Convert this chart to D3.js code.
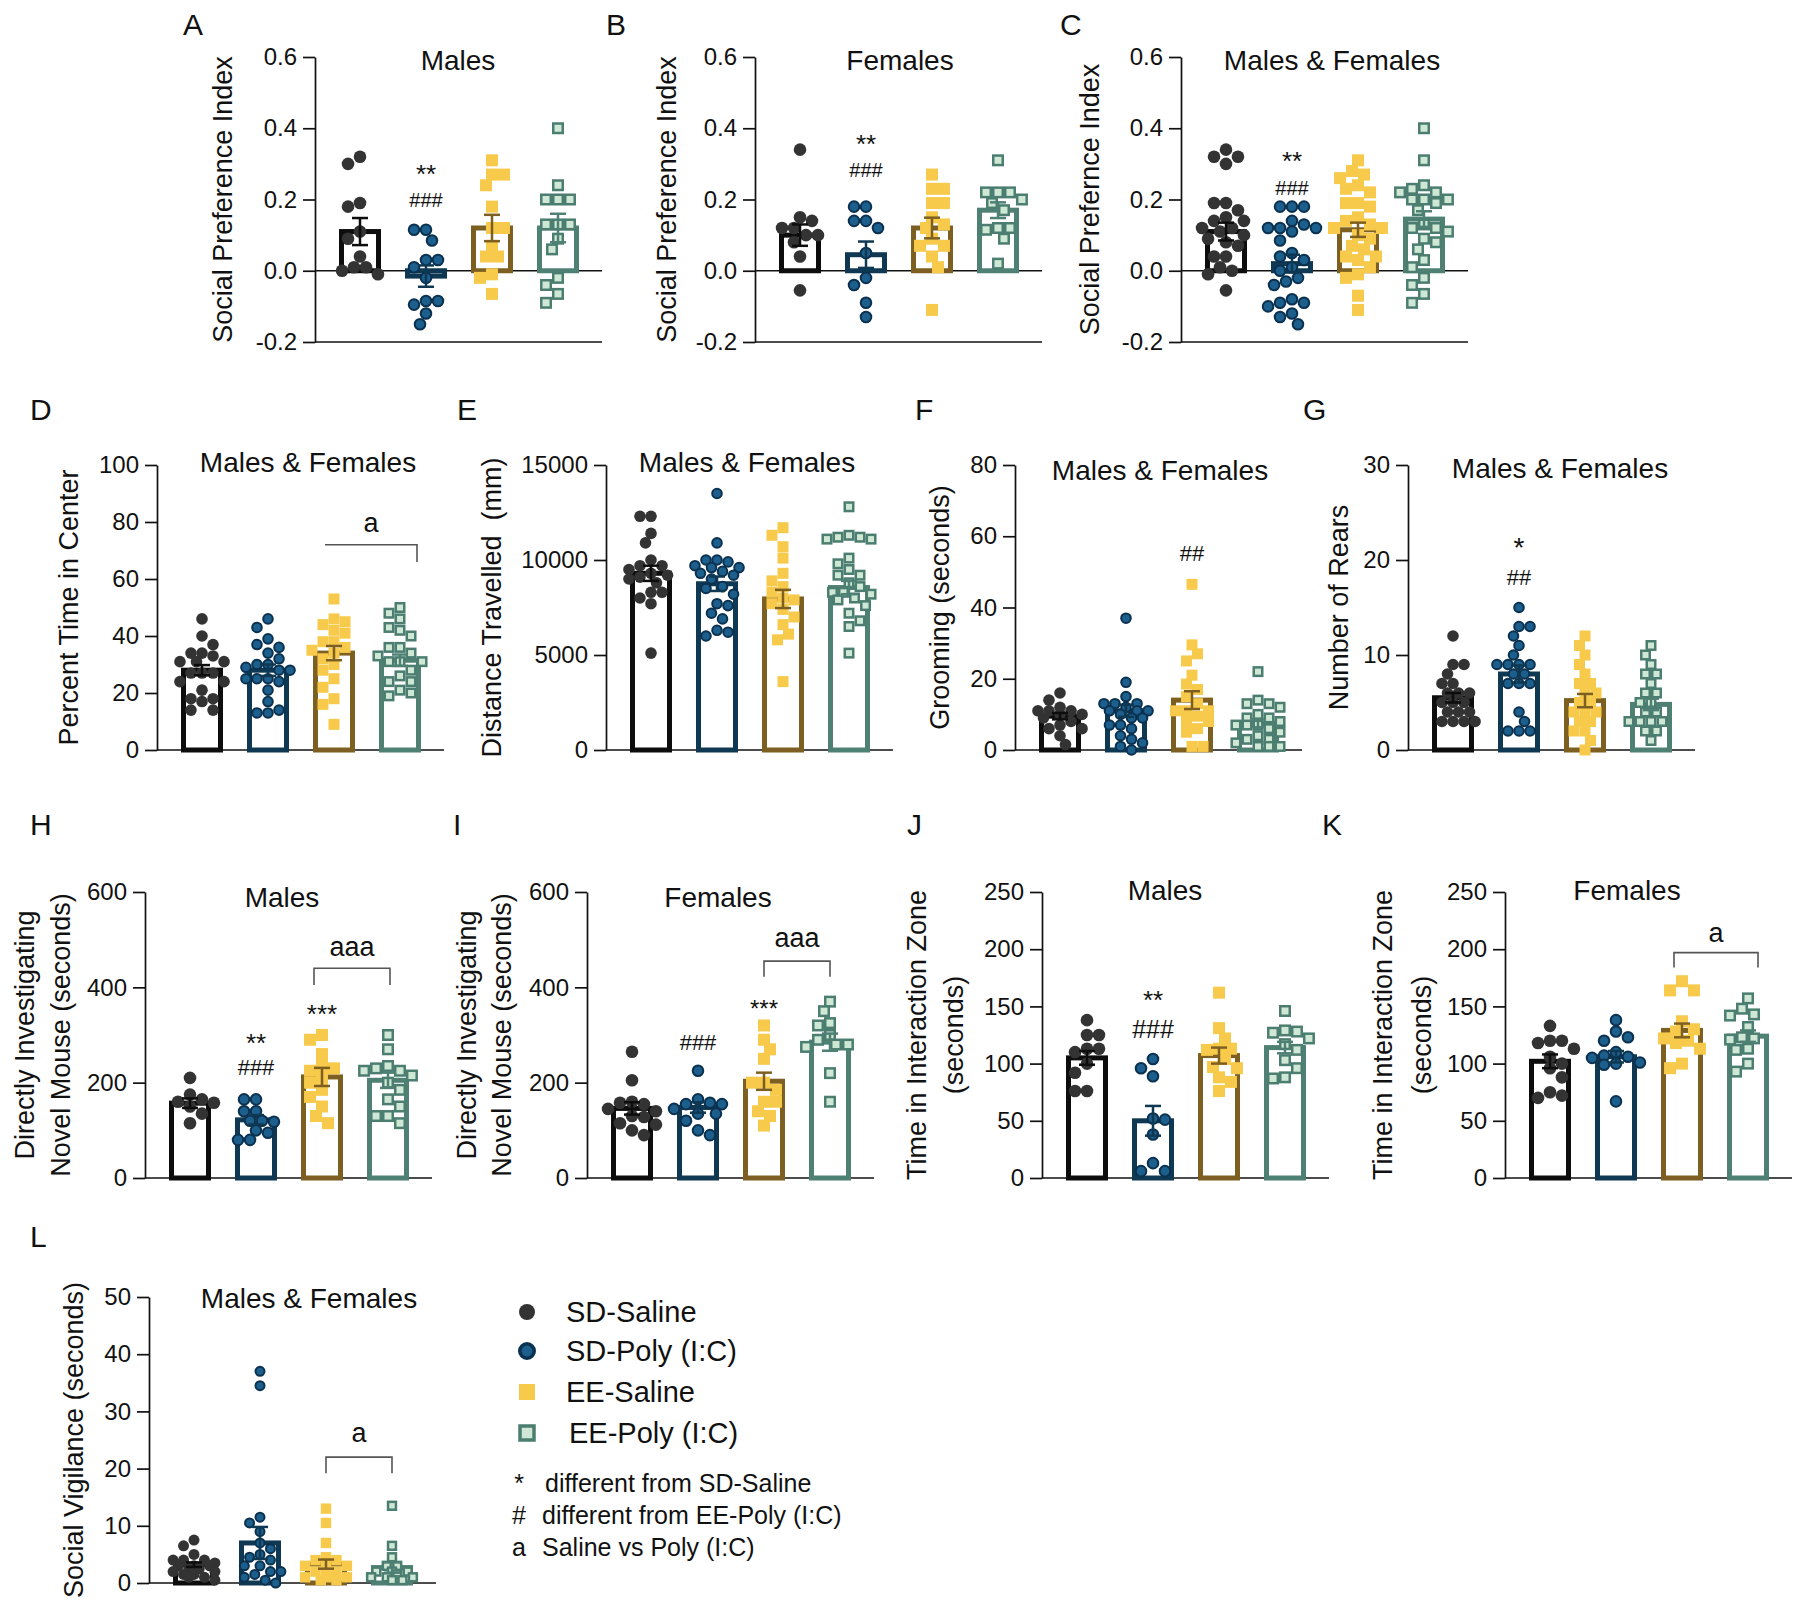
<!DOCTYPE html>
<html>
<head>
<meta charset="utf-8">
<script src="https://cdn.jsdelivr.net/npm/d3@7/dist/d3.min.js"></script>
<style>
html,body{margin:0;padding:0;background:#fff;}
svg text{font-family:"Liberation Sans",Arial,Helvetica,sans-serif;fill:#111;}
</style>
</head>
<body>
<svg id="fig" width="1800" height="1617" xmlns="http://www.w3.org/2000/svg"></svg>
<script>
// ---------- categories ----------
const groups = ["SD-Saline", "SD-Poly (I:C)", "EE-Saline", "EE-Poly (I:C)"];

// ---------- tick labels ----------
const ticksSPI = [-0.2, 0, 0.2, 0.4, 0.6];
const ticksCenter = [0, 20, 40, 60, 80, 100];
const ticksDistance = [0, 5000, 10000, 15000];
const ticksGrooming = [0, 20, 40, 60, 80];
const ticksRears = [0, 10, 20, 30];
const ticksInvestig = [0, 200, 400, 600];
const ticksZone = [0, 50, 100, 150, 200, 250];
const ticksVigil = [0, 10, 20, 30, 40, 50];

// ---------- A: Social preference index, males ----------
const aPoints = [
  [0.32, 0.30, 0.19, 0.18, 0.11, 0.09, 0.04, 0.01, 0.01, 0.0, -0.01],
  [0.115, 0.115, 0.085, 0.03, 0.03, 0.01, -0.02, -0.085, -0.085, -0.095, -0.12, -0.15],
  [0.31, 0.27, 0.27, 0.24, 0.18, 0.12, 0.12, 0.07, 0.04, 0.04, -0.01, -0.02, -0.065],
  [0.40, 0.24, 0.20, 0.20, 0.20, 0.13, 0.13, 0.13, 0.09, 0.06, -0.02, -0.04, -0.065, -0.09]
];
const aMeans = [0.11, -0.015, 0.12, 0.12];
const aSems = [0.038, 0.03, 0.037, 0.04];
const aMarks = [{g: 1, v: 0.29, t: "**"}, {g: 1, v: 0.2, t: "###"}];

// ---------- B: Social preference index, females ----------
const bPoints = [
  [0.34, 0.15, 0.14, 0.12, 0.12, 0.10, 0.10, 0.08, 0.04, -0.055],
  [0.18, 0.18, 0.14, 0.14, 0.12, 0.05, -0.02, -0.04, -0.09, -0.13],
  [0.27, 0.23, 0.23, 0.19, 0.19, 0.15, 0.13, 0.12, 0.09, 0.07, 0.07, 0.04, 0.01, -0.11],
  [0.31, 0.22, 0.22, 0.22, 0.2, 0.19, 0.17, 0.12, 0.12, 0.115, 0.09, 0.02]
];
const bMeans = [0.10, 0.045, 0.12, 0.17];
const bSems = [0.03, 0.037, 0.029, 0.022];
const bMarks = [{g: 1, v: 0.372, t: "**"}, {g: 1, v: 0.282, t: "###"}];

// ---------- C: Social preference index, both sexes ----------
const cPoints = [
  [0.34, 0.32, 0.32, 0.30, 0.19, 0.19, 0.17, 0.15, 0.14, 0.14, 0.12, 0.12, 0.11, 0.10, 0.09, 0.08, 0.07, 0.04, 0.04, 0.01, 0.0, -0.01, -0.055],
  [0.18, 0.18, 0.18, 0.14, 0.13, 0.12, 0.12, 0.12, 0.11, 0.085, 0.05, 0.04, 0.03, 0.01, 0.0, -0.02, -0.03, -0.04, -0.08, -0.09, -0.09, -0.10, -0.12, -0.13, -0.15],
  [0.31, 0.28, 0.27, 0.26, 0.24, 0.23, 0.22, 0.19, 0.19, 0.18, 0.15, 0.14, 0.13, 0.12, 0.12, 0.10, 0.09, 0.07, 0.06, 0.04, 0.04, 0.03, 0.01, -0.01, -0.02, -0.07, -0.11],
  [0.40, 0.31, 0.24, 0.23, 0.22, 0.22, 0.20, 0.20, 0.20, 0.19, 0.17, 0.13, 0.12, 0.12, 0.11, 0.09, 0.08, 0.06, 0.03, 0.01, -0.02, -0.04, -0.065, -0.09]
];
const cMeans = [0.11, 0.02, 0.115, 0.145];
const cSems = [0.025, 0.025, 0.02, 0.022];
const cMarks = [{g: 1, v: 0.325, t: "**"}, {g: 1, v: 0.233, t: "###"}];

// ---------- D: Percent time in center ----------
const dPoints = [
  [46, 40, 37, 34, 34, 33, 31, 31, 31, 27, 27, 27, 24, 24, 21, 18, 18, 17, 14, 14],
  [46, 43, 39, 37, 36, 34, 32, 30, 30, 29, 28, 28, 25, 25, 25, 24, 21, 17, 14, 13, 13],
  [53, 46, 45, 44, 42, 41, 38, 38, 36, 35, 34, 32, 30, 28, 25, 22, 18, 16, 9],
  [50, 48, 46, 43, 42, 40, 36, 36, 34, 33, 31, 31, 31, 28, 26, 24, 24, 21, 20, 19]
];
const dMeans = [28, 28, 34, 31.5];
const dSems = [1.8, 2, 2.5, 2];
const dBracket = {g1: 2, g2: 3, v: 72, drop: 66, left: false, label: "a", lv: 79};

// ---------- E: Distance travelled ----------
const ePoints = [
  [12300, 12300, 11400, 10900, 10000, 9700, 9700, 9500, 9300, 9200, 9100, 9000, 8800, 8300, 8300, 8000, 7700, 5100],
  [13500, 10900, 10000, 10000, 9900, 9700, 9600, 9600, 9400, 9300, 9200, 9000, 8600, 8500, 8200, 7700, 7600, 7200, 6900, 6300, 6200, 6000],
  [11700, 11300, 10700, 10100, 9300, 8900, 8600, 8300, 8000, 7900, 7700, 7400, 7000, 6600, 6100, 5800, 3600],
  [12800, 11300, 11200, 11200, 11100, 11100, 10100, 9800, 9500, 9200, 9200, 8800, 8600, 8300, 8300, 8200, 8000, 7900, 7600, 7200, 6800, 6500, 5100]
];
const eMeans = [9300, 8750, 7950, 8550];
const eSems = [400, 380, 480, 350];

// ---------- F: Grooming ----------
const fPoints = [
  [16, 14, 12, 11, 11, 11, 10, 10, 9, 8, 7, 6, 6, 4, 1.5],
  [37, 19, 15, 13, 13, 13, 12, 11, 11, 11, 10, 9, 9, 7, 7, 6, 4, 3, 2, 1, 0],
  [46.5, 29.5, 27, 25, 21, 18.5, 17, 15, 13, 11, 11, 11, 9.5, 8, 8, 6, 5, 1, 1],
  [22, 14, 13, 13, 12, 10, 9, 9, 8, 7, 7, 7, 6, 5, 4, 3, 3, 2, 1, 1, 1]
];
const fMeans = [9.5, 11, 14, 7.5];
const fSems = [0.9, 1.7, 2.5, 1.1];
const fMarks = [{g: 2, v: 55.4, t: "##"}];

// ---------- G: Number of rears ----------
const gPoints = [
  [12, 9, 9, 8, 7, 7, 6, 6, 6, 5, 5, 5, 4, 4, 4, 3, 3, 3, 3],
  [15, 13, 13, 12, 11, 10, 9, 9, 9, 9, 8, 8, 7, 7, 7, 4, 3, 2, 2, 2],
  [12, 11, 10, 9, 8, 7, 7, 6, 6, 5, 5, 4, 4, 4, 3, 3, 2, 2, 1, 0],
  [11, 10, 9, 8, 8, 7, 6, 6, 5, 5, 4, 4, 3, 3, 3, 3, 2, 2, 1]
];
const gMeans = [5.5, 8, 5.2, 4.8];
const gSems = [0.5, 0.9, 0.7, 0.6];
const gMarks = [{g: 1, v: 22.0, t: "*"}, {g: 1, v: 18.2, t: "##"}];

// ---------- H: Investigating novel mouse, males ----------
const hPoints = [
  [210, 175, 165, 160, 158, 150, 135, 115],
  [165, 165, 140, 140, 120, 120, 118, 100, 95, 80, 80],
  [300, 290, 260, 235, 230, 225, 210, 200, 185, 170, 150, 130, 115],
  [300, 270, 235, 230, 225, 225, 215, 200, 185, 165, 150, 130, 130, 115]
];
const hMeans = [157, 122, 212, 205];
const hSems = [10, 10, 19, 16];
const hMarks = [{g: 1, v: 296, t: "**"}, {g: 1, v: 233, t: "###"}, {g: 2, v: 357, t: "***"}];
const hBracket = {g1: 2, g2: 3, v: 440, drop: 405, left: true, label: "aaa", lv: 482};

// ---------- I: Investigating novel mouse, females ----------
const iPoints = [
  [265, 205, 160, 158, 155, 145, 140, 130, 128, 115, 112, 100, 90],
  [225, 165, 158, 155, 155, 145, 135, 135, 120, 100, 90],
  [320, 290, 270, 250, 200, 200, 185, 160, 160, 140, 130, 110],
  [370, 350, 325, 320, 300, 290, 280, 280, 275, 220, 160]
];
const iMeans = [146, 148, 203, 285];
const iSems = [13, 11, 18, 18];
const iMarks = [{g: 1, v: 285, t: "###"}, {g: 2, v: 367, t: "***"}];
const iBracket = {g1: 2, g2: 3, v: 455, drop: 422, left: true, label: "aaa", lv: 499};

// ---------- J: Time in interaction zone, males ----------
const jPoints = [
  [138, 125, 125, 113, 113, 110, 100, 92, 76, 76],
  [104, 96, 89, 52, 51, 38, 13, 6, 6],
  [162, 131, 122, 113, 113, 112, 104, 97, 96, 88, 84, 76],
  [146, 129, 128, 127, 122, 117, 112, 103, 96, 88, 87]
];
const jMeans = [105, 50, 107, 114];
const jSems = [6, 13, 7, 5];
const jMarks = [{g: 1, v: 161, t: "**"}, {g: 1, v: 130, t: "###"}];

// ---------- K: Time in interaction zone, females ----------
const kPoints = [
  [133, 120, 120, 118, 113, 106, 100, 96, 88, 75, 72, 70],
  [138, 128, 123, 120, 110, 107, 106, 105, 101, 100, 99, 67],
  [172, 164, 164, 137, 130, 128, 122, 120, 118, 113, 100, 96],
  [157, 148, 143, 142, 132, 123, 122, 121, 113, 112, 100, 93]
];
const kMeans = [102, 106, 129, 124];
const kSems = [6, 5, 6, 5];
const kBracket = {g1: 2, g2: 3, v: 197, drop: 184, left: true, label: "a", lv: 213};

// ---------- L: Social vigilance ----------
const lPoints = [
  [7.5, 6.5, 5, 4, 4, 4, 3.5, 3, 3, 3, 2.5, 2.5, 2, 2, 1.5, 1.5, 1, 1, 0.5],
  [37, 34.5, 11.5, 10.5, 9, 7, 6, 5, 4.5, 4, 3, 3, 2, 2, 1.5, 1, 0.5, 0],
  [13, 10.5, 7, 4.5, 4, 4, 3, 3, 3, 2, 2, 2, 1, 1, 1, 0.5, 0.5],
  [13.5, 6.5, 4.5, 3, 3, 2, 2, 2, 1.5, 1, 1, 1, 0.5, 0.5]
];
const lMeans = [3.2, 7, 3.3, 2.7];
const lSems = [0.4, 2.8, 0.8, 0.9];
const lBracket = {g1: 2, g2: 3, v: 22, drop: 19.2, left: true, label: "a", lv: 25.9};

// ---------- legend texts ----------
const notes = [["*", "different from SD-Saline"], ["#", "different from EE-Poly (I:C)"], ["a", "Saline vs Poly (I:C)"]];

// ---------- styles ----------
const gStyle = [
  {shape: "circle", fill: "#333333", stroke: "none", sw: 0, bar: "#0d0d0d"},
  {shape: "circle", fill: "#1d5f8c", stroke: "#0b3150", sw: 2, bar: "#0f3852"},
  {shape: "square", fill: "#f7ca4b", stroke: "none", sw: 0, bar: "#7d5f22"},
  {shape: "square", fill: "#cfe7d5", stroke: "#4b7e70", sw: 2.5, bar: "#4e8174"}
];

const fmt1 = v => v.toFixed(1);
const fmt0 = v => String(v);

// ---------- layout ----------
const panels = [
  {L: "A", lx: 183, ly: 35, x0: 315, yTop: 57, yBot: 342, dom: [-0.2, 0.6], ticks: ticksSPI, fmt: fmt1, zero: true,
   title: "Males", tx: 458, ty: 70, ylab: ["Social Preference Index"], ylx: [223],
   pts: aPoints, means: aMeans, sems: aSems, marks: aMarks, r: 6.3, hashFs: 20, starFs: 26},
  {L: "B", lx: 606, ly: 35, x0: 755, yTop: 57, yBot: 342, dom: [-0.2, 0.6], ticks: ticksSPI, fmt: fmt1, zero: true,
   title: "Females", tx: 900, ty: 70, ylab: ["Social Preference Index"], ylx: [667],
   pts: bPoints, means: bMeans, sems: bSems, marks: bMarks, r: 6.3, hashFs: 20, starFs: 26},
  {L: "C", lx: 1060, ly: 35, x0: 1181, yTop: 57, yBot: 342, dom: [-0.2, 0.6], ticks: ticksSPI, fmt: fmt1, zero: true,
   title: "Males & Females", tx: 1332, ty: 70, ylab: ["Social Prefernce Index"], ylx: [1090],
   pts: cPoints, means: cMeans, sems: cSems, marks: cMarks, r: 6.3, hashFs: 20, starFs: 26},
  {L: "D", lx: 30, ly: 420, x0: 157, yTop: 465, yBot: 750, dom: [0, 100], ticks: ticksCenter, fmt: fmt0,
   title: "Males & Females", tx: 308, ty: 472, ylab: ["Percent Time in Center"], ylx: [69],
   pts: dPoints, means: dMeans, sems: dSems, marks: [], bracket: dBracket, bx: [-9, 17], r: 5.8},
  {L: "E", lx: 457, ly: 420, x0: 606, yTop: 465, yBot: 750, dom: [0, 15000], ticks: ticksDistance, fmt: fmt0,
   title: "Males & Females", tx: 747, ty: 472, ylab: ["Distance Travelled  (mm)"], ylx: [492],
   pts: ePoints, means: eMeans, sems: eSems, marks: [], r: 5.8},
  {L: "F", lx: 915, ly: 420, x0: 1015, yTop: 465, yBot: 750, dom: [0, 80], ticks: ticksGrooming, fmt: fmt0,
   title: "Males & Females", tx: 1160, ty: 480, ylab: ["Grooming (seconds)"], ylx: [940],
   pts: fPoints, means: fMeans, sems: fSems, marks: fMarks, r: 5.8, hashFs: 22, starFs: 26},
  {L: "G", lx: 1303, ly: 420, x0: 1408, yTop: 465, yBot: 750, dom: [0, 30], ticks: ticksRears, fmt: fmt0,
   title: "Males & Females", tx: 1560, ty: 478, ylab: ["Number of Rears"], ylx: [1339],
   pts: gPoints, means: gMeans, sems: gSems, marks: gMarks, r: 5.8, hashFs: 22, starFs: 28},
  {L: "H", lx: 30, ly: 835, x0: 145, yTop: 892, yBot: 1178, dom: [0, 600], ticks: ticksInvestig, fmt: fmt0,
   title: "Males", tx: 282, ty: 907, ylab: ["Directly Investigating", "Novel Mouse (seconds)"], ylx: [25, 61],
   pts: hPoints, means: hMeans, sems: hSems, marks: hMarks, bracket: hBracket, bx: [-8, 2], r: 6.3, hashFs: 22, starFs: 26},
  {L: "I", lx: 453, ly: 835, x0: 587, yTop: 892, yBot: 1178, dom: [0, 600], ticks: ticksInvestig, fmt: fmt0,
   title: "Females", tx: 718, ty: 907, ylab: ["Directly Investigating", "Novel Mouse (seconds)"], ylx: [467, 502],
   pts: iPoints, means: iMeans, sems: iSems, marks: iMarks, bracket: iBracket, bx: [0, 0], r: 6.3, hashFs: 22, starFs: 24},
  {L: "J", lx: 907, ly: 835, x0: 1042, yTop: 892, yBot: 1178, dom: [0, 250], ticks: ticksZone, fmt: fmt0,
   title: "Males", tx: 1165, ty: 900, ylab: ["Time in Interaction Zone", "(seconds)"], ylx: [917, 954],
   pts: jPoints, means: jMeans, sems: jSems, marks: jMarks, r: 6.3, hashFs: 25, starFs: 26},
  {L: "K", lx: 1322, ly: 835, x0: 1505, yTop: 892, yBot: 1178, dom: [0, 250], ticks: ticksZone, fmt: fmt0,
   title: "Females", tx: 1627, ty: 900, ylab: ["Time in Interaction Zone", "(seconds)"], ylx: [1383, 1422],
   pts: kPoints, means: kMeans, sems: kSems, marks: [], bracket: kBracket, bx: [-8, 10], r: 6.3},
  {L: "L", lx: 30, ly: 1247, x0: 149, yTop: 1297, yBot: 1583, dom: [0, 50], ticks: ticksVigil, fmt: fmt0,
   title: "Males & Females", tx: 309, ty: 1308, ylab: ["Social Vigilance (seconds)"], ylx: [74],
   pts: lPoints, means: lMeans, sems: lSems, marks: [], bracket: lBracket, bx: [0, 0], r: 5.5}
];

const svg = d3.select("#fig");
svg.append("rect").attr("width", 1800).attr("height", 1617).attr("fill", "#fff");

function drawMarker(sel, gi, cx, cy, r) {
  const s = gStyle[gi];
  if (s.shape === "circle") {
    sel.append("circle").attr("cx", cx).attr("cy", cy).attr("r", r - s.sw / 2)
      .attr("fill", s.fill).attr("stroke", s.stroke).attr("stroke-width", s.sw);
  } else {
    const h = r - s.sw / 2 - 0.3;
    sel.append("rect").attr("x", cx - h).attr("y", cy - h).attr("width", 2 * h).attr("height", 2 * h)
      .attr("fill", s.fill).attr("stroke", s.stroke).attr("stroke-width", s.sw);
  }
}

function swarm(vals, y, r, maxOff) {
  const idx = vals.map((v, i) => i).sort((a, b) => vals[b] - vals[a]);
  const placed = [];
  const xs = new Array(vals.length).fill(0);
  const step = r * 0.95;
  const minD = 2 * r * 0.88;
  idx.forEach((i, n) => {
    const py = y(vals[i]);
    const cands = [0];
    for (let k = 1; k * step <= maxOff + 0.01; k++) {
      if (n % 2) cands.push(-k * step, k * step); else cands.push(k * step, -k * step);
    }
    let chosen = null, bestD = -1, bestX = 0;
    for (const cx of cands) {
      let md = Infinity;
      for (const p of placed) {
        const d = Math.hypot(p[0] - cx, p[1] - py);
        if (d < md) md = d;
      }
      if (md >= minD) { chosen = cx; break; }
      if (md > bestD) { bestD = md; bestX = cx; }
    }
    if (chosen === null) chosen = bestX;
    xs[i] = chosen;
    placed.push([chosen, py]);
  });
  return xs;
}

function glyphDy(t) {
  if (t[0] === "*") return "0.58em";
  if (t[0] === "#") return "0.36em";
  return "0.27em";
}

function drawPanel(p) {
  const g = svg.append("g");
  const y = d3.scaleLinear().domain(p.dom).range([p.yBot, p.yTop]);
  const x = d3.scalePoint().domain(groups).range([p.x0 + 45, p.x0 + 243]);
  const xEnd = p.x0 + 287;
  const barW = 42, bsw = 5;

  // panel letter
  g.append("text").attr("x", p.lx).attr("y", p.ly).attr("font-size", 30).text(p.L);

  // title
  g.append("text").attr("x", p.tx).attr("y", p.ty).attr("text-anchor", "middle")
    .attr("font-size", 28).text(p.title);

  // y label
  const yc = (p.yTop + p.yBot) / 2;
  p.ylab.forEach((t, k) => {
    g.append("text").attr("transform", `translate(${p.ylx[k]},${yc}) rotate(-90)`)
      .attr("text-anchor", "middle").attr("dy", "0.35em").attr("font-size", 27)
      .style("white-space", "pre").text(t);
  });

  // y axis
  const ax = d3.axisLeft(y).tickValues(p.ticks).tickFormat(p.fmt).tickSize(12).tickSizeOuter(0).tickPadding(6);
  const axG = g.append("g").attr("transform", `translate(${p.x0},0)`).call(ax);
  axG.select(".domain").attr("stroke", "#111").attr("stroke-width", 1.7);
  axG.selectAll(".tick line").attr("stroke", "#111").attr("stroke-width", 1.7);
  axG.selectAll(".tick text").attr("font-size", 24).attr("fill", "#111")
    .attr("font-family", "'Liberation Sans', Arial, sans-serif");

  // x axis line(s)
  g.append("line").attr("x1", p.x0).attr("x2", xEnd).attr("y1", p.yBot).attr("y2", p.yBot)
    .attr("stroke", "#111").attr("stroke-width", 1.7);
  if (p.zero) {
    g.append("line").attr("x1", p.x0).attr("x2", xEnd).attr("y1", y(0)).attr("y2", y(0))
      .attr("stroke", "#111").attr("stroke-width", 1.7);
  }

  // bars
  groups.forEach((gn, gi) => {
    const cx = x(gn);
    const y0 = y(0), ym = y(p.means[gi]);
    g.append("rect").attr("x", cx - barW / 2 + bsw / 2).attr("width", barW - bsw)
      .attr("y", Math.min(y0, ym)).attr("height", Math.abs(ym - y0))
      .attr("fill", "none").attr("stroke", gStyle[gi].bar).attr("stroke-width", bsw);
  });

  // points
  groups.forEach((gn, gi) => {
    const cx = x(gn);
    const vals = p.pts[gi];
    const offs = swarm(vals, y, p.r, 24);
    const pg = g.append("g");
    vals.forEach((v, i) => drawMarker(pg, gi, cx + offs[i], y(v), p.r));
  });

  // error bars (mean ± SEM)
  groups.forEach((gn, gi) => {
    const cx = x(gn);
    const m = p.means[gi], s = p.sems[gi];
    const col = gStyle[gi].bar;
    const eg = g.append("g").attr("stroke", col).attr("stroke-width", 2.5);
    eg.append("line").attr("x1", cx).attr("x2", cx).attr("y1", y(m - s)).attr("y2", y(m + s));
    [m - s, m + s].forEach(v => {
      eg.append("line").attr("x1", cx - 8).attr("x2", cx + 8).attr("y1", y(v)).attr("y2", y(v));
    });
  });

  // significance marks
  (p.marks || []).forEach(mk => {
    const fs = mk.t[0] === "*" ? p.starFs : p.hashFs;
    g.append("text").attr("x", x(groups[mk.g])).attr("y", y(mk.v)).attr("dy", glyphDy(mk.t))
      .attr("text-anchor", "middle").attr("font-size", fs).text(mk.t);
  });

  // bracket
  if (p.bracket) {
    const b = p.bracket;
    const xa = x(groups[b.g1]) + p.bx[0], xb = x(groups[b.g2]) + p.bx[1];
    const bg = g.append("g").attr("stroke", "#555").attr("stroke-width", 1.6).attr("fill", "none");
    let d = "";
    if (b.left) d = `M${xa},${y(b.drop)}V${y(b.v)}H${xb}V${y(b.drop)}`;
    else d = `M${xa},${y(b.v)}H${xb}V${y(b.drop)}`;
    bg.append("path").attr("d", d);
    g.append("text").attr("x", (xa + xb) / 2).attr("y", y(b.lv)).attr("dy", glyphDy(b.label))
      .attr("text-anchor", "middle").attr("font-size", 27).text(b.label);
  }
}

panels.forEach(drawPanel);

// ---------- legend ----------
const legY = [1312, 1351, 1392, 1433];
const legX = [566, 566, 566, 569];
const lg = svg.append("g");
const legR = [8, 9, 8, 9];
groups.forEach((gn, gi) => {
  const s = gStyle[gi];
  if (s.shape === "circle") {
    lg.append("circle").attr("cx", 527).attr("cy", legY[gi]).attr("r", legR[gi] - (gi === 1 ? 1.8 : 0))
      .attr("fill", s.fill).attr("stroke", s.stroke).attr("stroke-width", gi === 1 ? 3.6 : 0);
  } else {
    const h = gi === 3 ? 7 : 8;
    lg.append("rect").attr("x", 527 - h).attr("y", legY[gi] - h).attr("width", 2 * h).attr("height", 2 * h)
      .attr("fill", s.fill).attr("stroke", s.stroke).attr("stroke-width", gi === 3 ? 3.5 : 0);
  }
  lg.append("text").attr("x", legX[gi]).attr("y", legY[gi]).attr("dy", "0.36em")
    .attr("font-size", 29).text(gn);
});
const noteY = [1483, 1515, 1547];
notes.forEach((nt, k) => {
  lg.append("text").attr("x", 519).attr("y", noteY[k]).attr("dy", "0.36em").attr("text-anchor", "middle")
    .attr("font-size", 25).text(nt[0]);
  lg.append("text").attr("x", k === 0 ? 545 : 542).attr("y", noteY[k]).attr("dy", "0.36em")
    .attr("font-size", 25).text(nt[1]);
});
</script>
</body>
</html>
